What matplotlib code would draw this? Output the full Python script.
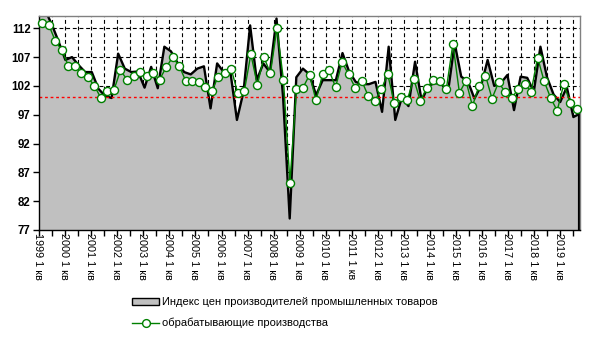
import numpy as np
import matplotlib
matplotlib.use('Agg')
import matplotlib.pyplot as plt
from matplotlib.patches import Patch
from matplotlib.lines import Line2D

plt.rcParams['font.family'] = ['Liberation Sans', 'DejaVu Sans']

# Quarterly data, 1999 Q1 .. 2019 Q3
years = list(range(1999, 2020))
quarters = [f"{y} {q} кв" for y in years for q in range(1, 5)][:83]

ppi = [115.0, 115.0, 112.5, 109.6, 106.5, 107.0, 105.6, 104.4, 104.4, 101.5,
       100.3, 99.9, 107.6, 105.0, 104.4, 104.5, 101.7, 105.3, 101.6, 108.8,
       108.0, 106.0, 104.4, 104.0, 105.0, 105.4, 98.1, 105.9, 104.4, 104.5,
       96.1, 101.0, 112.5, 103.0, 105.9, 104.4, 113.7, 100.0, 79.0, 103.5,
       105.0, 104.0, 100.4, 103.0, 103.0, 103.0, 107.7, 104.5, 102.7, 102.3,
       102.3, 102.7, 97.5, 108.8, 96.1, 100.0, 98.5, 106.2, 99.4, 102.0,
       102.5, 102.3, 101.0, 109.4, 103.6, 102.8, 99.8, 102.0, 106.5, 102.0,
       102.5, 103.9, 97.8, 103.6, 103.4, 101.0, 108.8, 103.5, 100.5, 99.2,
       101.8, 96.6, 97.2]

manuf = [113.0, 112.6, 109.8, 108.2, 105.5, 105.5, 104.2, 103.5, 102.0, 99.9,
         101.1, 101.3, 104.7, 103.1, 103.7, 104.4, 103.7, 104.2, 103.1, 105.2,
         107.0, 105.5, 102.9, 102.9, 102.6, 101.8, 101.1, 103.6, 104.2, 104.9,
         100.7, 101.1, 107.5, 102.2, 107.0, 104.2, 112.0, 103.1, 85.2, 101.5,
         101.7, 103.9, 99.5, 104.0, 104.7, 101.8, 106.1, 104.0, 101.7, 102.9,
         100.3, 99.4, 101.4, 104.0, 99.1, 100.0, 99.6, 103.2, 99.4, 101.7,
         103.0, 102.8, 101.5, 109.3, 100.8, 102.9, 98.5, 102.0, 103.8, 99.8,
         102.6, 101.0, 99.9, 101.4, 102.4, 101.0, 106.9, 102.8, 99.9, 97.7,
         102.3, 99.1, 98.0]

yticks = [77, 82, 87, 92, 97, 102, 107, 112]
ref_level = 100

label_ppi = "Индекс цен производителей промышленных товаров"
label_manuf = "обрабатывающие производства"

n = len(quarters)
x = np.arange(n)
x_area = np.linspace(-0.5, n - 0.5, n)

fig = plt.figure(figsize=(5.97, 3.38), dpi=100)
ax = fig.add_axes([39/597, 1 - 230/338, (580-39)/597, (230-16)/338])

ax.set_xlim(-0.5, n - 0.5)
ax.set_ylim(77, 114.13)

# grid
grid_x = np.arange(-0.5, n - 0.5, 2)
for gx in grid_x[1:]:
    ax.axvline(gx, color='black', lw=0.8, ls=(0, (3.5, 2.5)), zorder=0.5)
for gy in yticks:
    ax.axhline(gy, color='black', lw=0.8, ls=(0, (3.5, 2.5)), zorder=0.5)

ax.fill_between(x_area, 77, ppi, facecolor='#c0c0c0', edgecolor='none', zorder=1)
ax.plot(x_area, ppi, color='black', lw=1.7, zorder=1.2)
ax.plot([x_area[-1], x_area[-1]], [ppi[-1], 77], color='black', lw=3, zorder=1.2)

ax.axhline(ref_level, color='#ff0000', lw=1, ls=(0, (2, 2)), zorder=2)

ax.plot(x, manuf, color='#008000', lw=1, marker='o', markersize=5.8,
        markerfacecolor='white', markeredgecolor='#008000', markeredgewidth=1,
        zorder=3, clip_on=False)

ax.set_yticks(yticks)
ax.set_yticklabels([str(v) for v in yticks], fontsize=8.3, fontweight='bold')
ax.set_xticks(grid_x)
ax.set_xticklabels([])
ax.tick_params(axis='both', direction='out', length=4, width=1, color='black', pad=2)

for i, yv in enumerate(years):
    ax.text(4 * i - 0.7, 76.4, f"{yv} 1 кв", rotation=270, ha='center', va='top',
            fontsize=7.8, transform=ax.transData)

for side in ['top', 'right']:
    ax.spines[side].set_color('#808080')
    ax.spines[side].set_linewidth(1)
for side in ['left', 'bottom']:
    ax.spines[side].set_color('black')
    ax.spines[side].set_linewidth(1)

handles = [Patch(facecolor='#c0c0c0', edgecolor='black', lw=1),
           Line2D([], [], color='#008000', lw=1, marker='o', markersize=5.6,
                  markerfacecolor='white', markeredgecolor='#008000')]
fig.legend(handles, [label_ppi, label_manuf], loc='upper left',
           bbox_to_anchor=(128/597, 1 - 293/338), frameon=False, fontsize=8,
           handlelength=2.4, handletextpad=0.3, labelspacing=0.95, borderaxespad=0)

fig.savefig('out.png', dpi=100)
